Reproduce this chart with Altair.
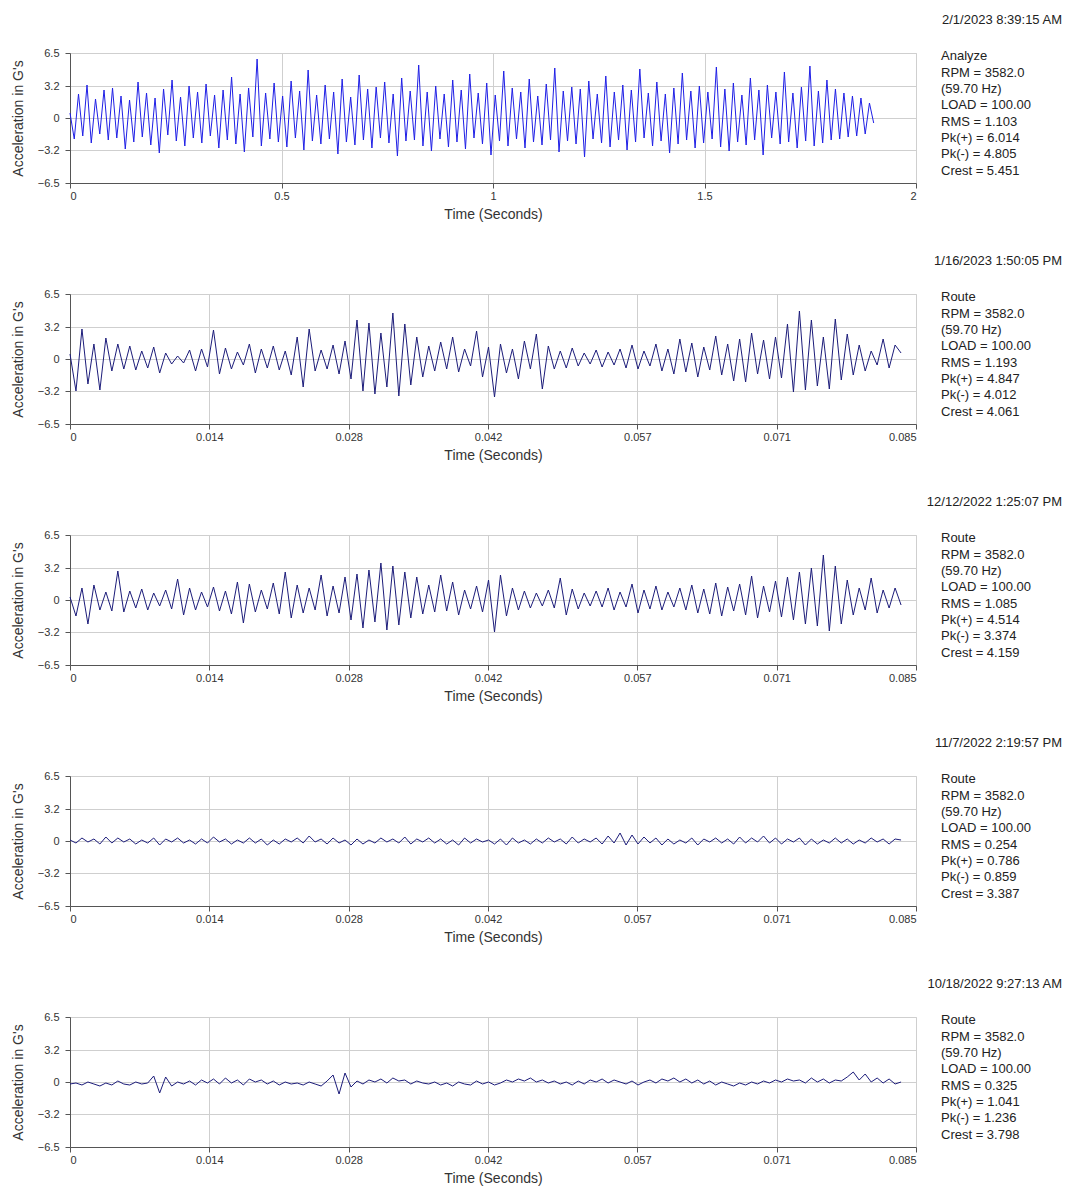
import numpy as np
import pandas as pd
import altair as alt

FONT = "Liberation Sans"

STAMPS = ["2/1/2023 8:39:15 AM", "1/16/2023 1:50:05 PM", "12/12/2022 1:25:07 PM",
          "11/7/2022 2:19:57 PM", "10/18/2022 9:27:13 AM"]
MODES = ["Analyze", "Route", "Route", "Route", "Route"]
RMS = ["1.103", "1.193", "1.085", "0.254", "0.325"]
PK_POS = ["6.014", "4.847", "4.514", "0.786", "1.041"]
PK_NEG = ["4.805", "4.012", "3.374", "0.859", "1.236"]
CREST = ["5.451", "4.061", "4.159", "3.387", "3.798"]

X_TICKS_LONG = [0, 0.5, 1, 1.5, 2]
X_TICKS_SHORT = [0, 0.014, 0.028, 0.042, 0.057, 0.071, 0.085]
Y_TICKS = [-6.5, -3.2, 0, 3.2, 6.5]

wave1 = [0.5,-2.1,2.4,-1.8,3.3,-2.5,1.9,-1.6,2.8,-2.2,
3.0,-2.0,2.2,-3.1,1.8,-2.4,3.6,-1.9,2.5,-2.7,
2.0,-3.5,2.9,-1.7,3.8,-2.3,2.1,-2.8,3.2,-2.0,
2.6,-2.5,3.4,-1.8,2.3,-3.0,2.8,-2.2,4.1,-2.6,
2.4,-3.4,3.0,-1.9,5.9,-2.8,2.5,-2.1,3.5,-2.4,
2.2,-2.9,3.7,-2.0,2.7,-3.2,4.8,-2.3,2.3,-2.6,
3.3,-2.1,2.6,-3.6,3.9,-2.4,2.1,-2.7,4.3,-2.2,
2.9,-3.0,3.1,-2.0,3.6,-2.5,2.4,-3.8,4.0,-2.3,
2.7,-2.2,5.3,-2.8,2.6,-3.3,3.2,-2.1,2.4,-2.9,
3.8,-2.4,2.8,-3.1,4.4,-2.0,2.5,-2.6,3.5,-3.7,
2.3,-2.3,4.7,-2.8,3.0,-2.1,2.6,-3.0,3.9,-2.4,
2.2,-2.7,3.4,-2.2,5.0,-3.4,2.7,-2.3,3.1,-2.6,
2.9,-3.9,3.7,-2.1,2.4,-2.5,4.2,-2.9,2.6,-2.2,
3.3,-3.2,2.8,-2.4,4.9,-2.0,2.5,-2.8,3.6,-2.3,
2.4,-3.5,3.0,-2.6,4.5,-2.2,2.7,-3.0,3.2,-2.5,
2.6,-2.1,5.1,-2.9,2.9,-3.3,3.5,-2.4,2.3,-2.7,
4.0,-2.2,2.8,-3.7,3.3,-2.0,2.6,-2.6,4.6,-2.4,
2.5,-3.0,3.1,-2.3,5.2,-2.8,2.7,-2.5,3.8,-2.2,
2.9,-2.1,2.5,-1.9,2.2,-1.8,2.0,-1.6,1.5,-0.5]

wave2 = [0.5,-3.2,3.0,-2.5,1.5,-3.1,2.1,-1.2,1.5,-1.0,
1.3,-1.1,0.8,-0.9,1.2,-1.4,0.6,-0.5,0.3,-0.4,
0.9,-1.2,1.0,-0.8,2.9,-1.5,1.1,-1.0,0.7,-0.6,
1.5,-1.4,1.0,-0.9,1.3,-1.1,0.8,-1.6,2.2,-2.8,
3.0,-1.2,0.9,-1.0,1.4,-1.5,1.8,-2.0,3.9,-3.2,
3.6,-3.5,2.6,-2.8,4.6,-3.7,3.5,-2.6,2.2,-1.8,
1.3,-1.2,1.7,-1.0,2.2,-1.3,1.0,-0.7,2.8,-1.8,
1.2,-3.8,1.5,-1.4,1.0,-2.0,1.8,-1.0,2.5,-3.0,
1.3,-1.0,0.8,-0.9,1.1,-0.7,0.6,-0.5,0.9,-0.8,
0.7,-0.6,1.0,-0.9,1.4,-1.0,0.8,-0.7,1.5,-1.2,
1.0,-1.5,2.0,-1.3,1.6,-1.8,1.2,-1.1,2.3,-1.6,
1.5,-2.2,2.0,-2.3,2.6,-1.5,1.9,-2.0,2.2,-1.9,
3.5,-3.3,4.8,-3.1,3.9,-2.7,2.2,-3.0,4.0,-2.1,
2.5,-1.6,1.4,-1.2,0.8,-0.6,2.0,-0.9,1.4,0.6]

wave3 = [0.3,-1.6,1.2,-2.4,1.5,-1.0,0.8,-1.1,2.9,-1.2,
0.9,-0.8,1.1,-1.0,0.7,-0.6,1.0,-0.9,2.1,-1.5,
1.2,-1.0,0.8,-0.7,1.3,-1.1,0.9,-1.4,1.8,-2.3,
1.6,-1.2,1.0,-0.9,1.7,-1.4,2.8,-1.8,1.5,-1.3,
1.2,-1.0,2.5,-1.6,1.4,-1.3,2.3,-2.0,2.6,-2.8,
3.0,-2.2,3.7,-3.0,3.4,-2.5,2.8,-1.8,2.3,-1.4,
1.5,-1.2,2.5,-1.1,1.8,-1.5,1.0,-0.9,1.4,-1.2,
2.0,-3.2,2.5,-1.6,1.2,-1.0,0.9,-0.8,0.7,-0.6,
1.0,-0.8,2.2,-1.5,1.1,-0.9,0.7,-0.6,0.9,-0.7,
1.2,-1.0,0.8,-0.7,1.6,-1.3,1.0,-0.9,1.4,-1.0,
0.8,-0.7,1.2,-1.0,1.5,-1.3,1.1,-1.4,1.7,-1.6,
1.3,-1.1,1.6,-1.5,2.4,-1.8,1.4,-1.2,1.9,-1.7,
2.3,-2.0,2.8,-2.4,3.2,-2.6,4.5,-3.1,3.4,-2.4,
2.0,-1.5,1.2,-1.0,2.2,-1.3,1.0,-0.8,1.2,-0.5]

wave4 = [0.1,-0.2,0.3,-0.1,0.2,-0.3,0.4,-0.2,0.3,-0.1,
0.2,-0.3,0.1,-0.2,0.3,-0.4,0.2,-0.1,0.3,-0.2,
0.1,-0.3,0.2,-0.2,0.4,-0.1,0.2,-0.3,0.1,-0.2,
0.3,-0.2,0.2,-0.4,0.1,-0.3,0.2,-0.1,0.3,-0.2,
0.5,-0.1,0.2,-0.3,0.3,-0.2,0.1,-0.4,0.2,-0.3,
0.1,-0.2,0.3,-0.1,0.2,-0.2,0.4,-0.3,0.2,-0.1,
0.3,-0.2,0.2,-0.3,0.1,-0.4,0.3,-0.2,0.2,-0.1,
0.1,-0.3,0.2,-0.4,0.3,-0.2,0.1,-0.3,0.2,-0.2,
0.3,-0.1,0.2,-0.3,0.4,-0.2,0.2,-0.1,0.3,-0.3,
0.5,-0.2,0.8,-0.4,0.6,-0.3,0.4,-0.2,0.3,-0.4,
0.2,-0.3,0.1,-0.2,0.3,-0.4,0.2,-0.1,0.3,-0.2,
0.2,-0.3,0.4,-0.2,0.3,-0.1,0.5,-0.2,0.3,-0.3,
0.2,-0.1,0.3,-0.4,0.2,-0.3,0.1,-0.2,0.3,-0.2,
0.2,-0.3,0.1,-0.2,0.3,-0.1,0.2,-0.3,0.2,0.1]

wave5 = [-0.2,-0.1,-0.3,0.0,-0.2,-0.4,-0.1,-0.3,0.1,-0.2,
-0.3,0.0,-0.2,-0.1,0.6,-1.1,0.5,-0.4,0.0,-0.2,
0.1,-0.3,0.2,-0.1,0.3,-0.2,0.4,-0.1,0.2,-0.3,
0.3,0.0,0.2,-0.2,0.1,-0.3,0.0,-0.2,-0.1,-0.3,
0.0,-0.2,-0.4,0.1,0.7,-1.2,0.9,-0.5,0.1,-0.2,
0.2,0.0,0.3,-0.1,0.4,0.1,0.2,-0.2,0.1,-0.1,
-0.2,0.0,-0.3,-0.1,-0.4,0.0,-0.2,-0.3,0.1,-0.2,
0.0,-0.3,-0.1,0.2,0.0,0.3,0.1,0.4,0.0,0.2,
-0.1,0.1,-0.2,0.0,-0.3,0.1,-0.2,0.2,0.0,0.3,
-0.1,0.2,0.0,-0.2,0.1,-0.3,0.0,0.2,-0.1,0.3,
0.1,0.4,0.0,0.3,-0.1,0.2,-0.2,0.1,-0.3,0.0,
-0.2,-0.4,-0.1,-0.3,0.0,-0.2,0.1,-0.1,0.2,0.0,
0.3,0.1,0.2,-0.1,0.4,0.0,0.3,-0.1,0.2,0.1,
0.5,1.0,0.2,0.8,0.0,0.4,-0.1,0.3,-0.2,0.0]

WAVES = [wave1, wave2, wave3, wave4, wave5]
DURATIONS = [1.9, 0.0835, 0.0835, 0.0835, 0.0835]
COLORS = ["#1f1fe6", "#1c1c7a", "#1c1c7a", "#1c1c7a", "#1c1c7a"]

W, H = 846, 130
AX = dict(labelFont=FONT, titleFont=FONT, labelFontSize=11, titleFontSize=14,
          titleFontWeight="normal", labelColor="#333", titleColor="#333",
          gridColor="#cfcfcf", domainColor="#555", tickColor="#555")


def panel(i):
    vals = WAVES[i]
    t = np.linspace(0, DURATIONS[i], len(vals))
    df = pd.DataFrame({"t": t, "g": vals})
    ticks = X_TICKS_LONG if i == 0 else X_TICKS_SHORT
    xdom = [0, 2] if i == 0 else [0, 0.085]
    line = alt.Chart(df).mark_line(color=COLORS[i], strokeWidth=1).encode(
        x=alt.X("t:Q", scale=alt.Scale(domain=xdom, nice=False),
                axis=alt.Axis(values=ticks, format=".3~g", title="Time (Seconds)",
                              titlePadding=6, **AX)),
        y=alt.Y("g:Q", scale=alt.Scale(domain=[-6.5, 6.5], nice=False),
                axis=alt.Axis(values=Y_TICKS, format=".3~g", title="Acceleration in G's",
                              titlePadding=12, labelPadding=6, **AX)),
    )
    lines = [MODES[i], "RPM = 3582.0", "(59.70 Hz)", "LOAD = 100.00",
             f"RMS = {RMS[i]}", f"Pk(+) = {PK_POS[i]}", f"Pk(-) = {PK_NEG[i]}",
             f"Crest = {CREST[i]}"]
    info_df = pd.DataFrame({"txt": lines, "row": list(range(len(lines)))})
    info = alt.Chart(info_df).mark_text(
        align="left", baseline="middle", fontSize=13, font=FONT, color="#222"
    ).encode(
        x=alt.value(W + 25),
        y=alt.Y("row:O", axis=None,
                scale=alt.Scale(domain=list(range(8)), range=[-5, -5 + 7 * 18.7])),
        text="txt:N",
    )
    stamp = alt.Chart(pd.DataFrame({"s": [STAMPS[i]]})).mark_text(
        align="right", baseline="middle", fontSize=13, font=FONT, color="#222"
    ).encode(x=alt.value(W + 146), y=alt.value(-33), text="s:N")
    return alt.layer(line, info, stamp).resolve_scale(y="independent").properties(width=W, height=H)


chart = alt.vconcat(*[panel(i) for i in range(5)], spacing=32).configure_view(
    stroke="#999", strokeWidth=1
).properties(padding={"left": 2, "top": 5, "right": 0, "bottom": 0}).configure(background="white")

chart.save("out.html", embed_options={"renderer": "svg", "actions": False})
